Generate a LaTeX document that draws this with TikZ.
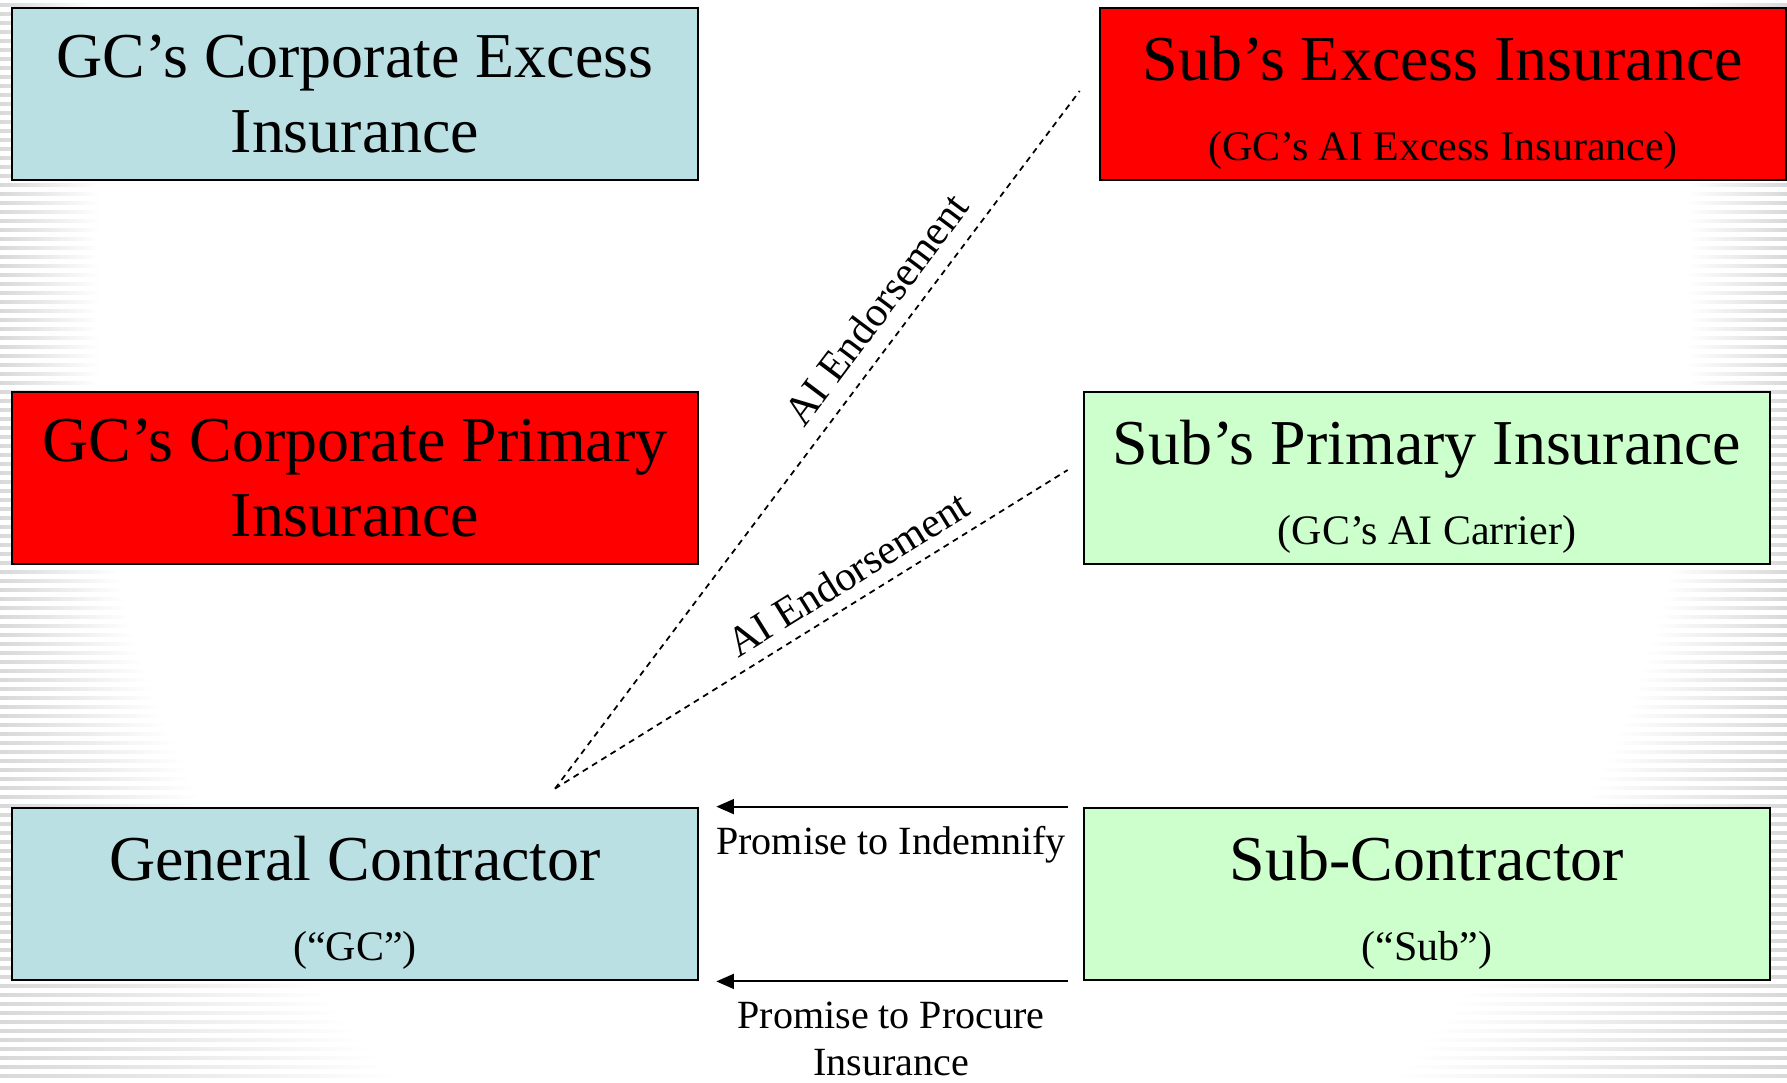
\documentclass[tikz,border=0pt]{standalone}
\usepackage{fontspec}
\setmainfont{Liberation Serif}
\usetikzlibrary{calc, arrows.meta}

\definecolor{gcblue}{HTML}{BBE0E3}
\definecolor{subgreen}{HTML}{CCFFCC}
\definecolor{hotred}{HTML}{FF0000}
\newcommand\boxfont{\fontsize{36.4}{43.1}\selectfont}
\newcommand\notefont{\fontsize{23.9}{27.2}\selectfont}
\newcommand\promisefont{\fontsize{22.8}{26.8}\selectfont}

\tikzset{
    insbox/.style={draw, line width=1.6pt, minimum width=13.72cm, minimum height=3.44cm, inner sep=0pt},
    boxtitle/.style={anchor=base, font=\boxfont, inner sep=0pt},
    boxnote/.style={anchor=base, font=\notefont, inner sep=0pt},
    promisenote/.style={anchor=base, font=\promisefont, inner sep=0pt},
    aiend/.style={dash pattern=on 3.4pt off 2.8pt, line width=1pt},
    ailabel/.style={sloped, font=\notefont, inner sep=0pt},
    promise/.style={-{Triangle[length=10pt,width=8.5pt]}, line width=1.1pt, shorten <=0.3cm, shorten >=0.34cm}
}

\begin{document}
\begin{tikzpicture}[x=0.02cm, y=-0.02cm]
    \useasboundingbox (0,0) rectangle (1787,1082);
    % striped background at both edges
    \foreach \y in {3,12,...,1080}{
        \pgfmathsetmacro\len{100+300*(max(0,\y-400)/680)^2}
        \shade[left color=gray!30, right color=white] (0,\y) rectangle (\len,\y+3);
        \shade[left color=white, right color=gray!30] (1787-\len,\y) rectangle (1787,\y+3);
    }

    % insurance boxes
    \node[insbox, fill=gcblue, font=\boxfont, align=center] (gcx) at (355,94) {GC’s Corporate Excess\\Insurance};
    \node[insbox, fill=hotred] (sx) at (1443,94) {};
    \node[insbox, fill=hotred, font=\boxfont, align=center] (gcp) at (355,478) {GC’s Corporate Primary\\Insurance};
    \node[insbox, fill=subgreen] (sp) at (1427,478) {};
    \node[insbox, fill=gcblue] (gc) at (355,894) {};
    \node[insbox, fill=subgreen] (sub) at (1427,894) {};

    \node[boxtitle] (sxname) at ($(sx.north)+(0,74)$) {Sub’s Excess Insurance};
    \node[boxnote] (sxnote) at ($(sx.north)+(0,154)$) {(GC’s AI Excess Insurance)};
    \node[boxtitle] (spname) at ($(sp.north)+(0,74)$) {Sub’s Primary Insurance};
    \node[boxnote] (spnote) at ($(sp.north)+(0,154)$) {(GC’s AI Carrier)};
    \node[boxtitle] (gcname) at ($(gc.north)+(0,74)$) {General Contractor};
    \node[boxnote] (gcnote) at ($(gc.north)+(0,154)$) {(“GC”)};
    \node[boxtitle] (subname) at ($(sub.north)+(0,74)$) {Sub-Contractor};
    \node[boxnote] (subnote) at ($(sub.north)+(0,154)$) {(“Sub”)};

    % AI endorsements
    \coordinate (gctip) at ($(gc.north)+(200,-18)$);
    \coordinate (sxend) at ($(sx.west)+(-19,-3)$);
    \coordinate (spend) at ($(sp.west)+(-15,-8)$);
    \draw[aiend] (gctip) -- (sxend) node[pos=0.66, above=9pt, ailabel] (aitop) {AI Endorsement};
    \draw[aiend] (gctip) -- (spend) node[pos=0.6, above=7pt, ailabel] (aimid) {AI Endorsement};

    % promises from the sub
    \draw[promise] (sub.north west) -- (gc.north east);
    \draw[promise] (sub.south west) -- (gc.south east);
    \node[promisenote] (indem) at ($(gc.north east)!0.5!(sub.north west)+(0,48)$) {Promise to Indemnify};
    \node[promisenote, align=center] (procure) at ($(gc.south east)!0.5!(sub.south west)+(0,94)$) {Promise to Procure\\Insurance};
\end{tikzpicture}
\end{document}
